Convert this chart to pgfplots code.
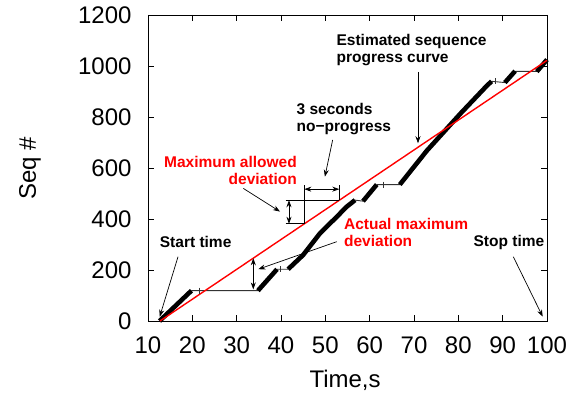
\documentclass[border=0pt]{standalone}
\usepackage{fontspec}
\setmainfont{Liberation Sans}
\usepackage{pgfplots}
\pgfplotsset{compat=1.18}
\usepackage{pgfplotstable}
\usetikzlibrary{arrows.meta}

% thick progress segments, nan rows break the line
\pgfplotstableread{
x y
12.6 0
19.8 119
nan nan
34.8 119
39.1 203
nan nan
41.6 203
45.0 259
48.8 344
52.6 409
54.8 448
56.7 474
nan nan
58.5 470
61.6 535
nan nan
66.8 535
72.9 668
80.4 812
86.4 922
87.5 940
nan nan
90.5 935
92.8 980
nan nan
97.7 978
100.0 1025
}\progress

% thin no-progress stretches
\pgfplotstableread{
x y
19.8 119
34.8 119
nan nan
39.1 203
41.6 203
nan nan
56.7 474
58.5 470
nan nan
61.6 535
66.8 535
nan nan
87.5 940
90.5 935
nan nan
92.8 979
97.7 979
}\stall

\newcommand{\annfont}{\bfseries\fontsize{15.5}{17}\selectfont}
\tikzset{ann/.style={-{Stealth[length=7pt,width=5pt]}, line width=0.7pt},
         dbl/.style={{Stealth[length=7pt,width=5pt]}-{Stealth[length=7pt,width=5pt]}, line width=0.7pt}}

\begin{document}
\begin{tikzpicture}
\useasboundingbox (0,0) rectangle (572pt,402pt);
\begin{axis}[
  at={(148pt,81pt)}, anchor=south west,
  scale only axis, width=399pt, height=306pt,
  xmin=10, xmax=100, ymin=0, ymax=1200,
  xtick={10,20,...,100}, ytick={0,200,...,1200},
  tick align=inside, tick pos=both,
  major tick length=6pt,
  axis line style={line width=0.9pt},
  tick style={black, line width=0.8pt},
  ticklabel style={font=\fontsize{24}{28}\selectfont},
  /pgf/number format/assume math mode=true,
  /pgf/number format/1000 sep={},
  xticklabel style={yshift=-12pt},
  yticklabel style={xshift=-13pt},
  xlabel={Time,s}, ylabel={Seq \#},
  label style={font=\fontsize{24}{28}\selectfont},
  xlabel style={at={(axis description cs:0.494,-0.193)}, anchor=center},
  ylabel style={at={(axis description cs:-0.296,0.5)}, anchor=center},
  unbounded coords=jump,
  clip=false,
]
  \addplot[black!80, line width=0.9pt] table {\stall};
  \addplot[only marks, mark=|, mark size=3pt, black!80, mark options={line width=0.9pt}]
    coordinates {(21.7,119) (39.8,203) (63.1,535) (88.3,940)};
  \addplot[black, line width=4.6pt] table {\progress};
  \addplot[red, line width=1.4pt] coordinates {(12.7,0) (100,1022)};

  % maximum allowed deviation staircase
  \draw[line width=0.7pt] (axis cs:41.06,473.5) -- (axis cs:53.15,473.5);
  \draw[line width=0.7pt] (axis cs:41.06,381.2) -- (axis cs:45.26,381.2);
  \draw[line width=0.7pt] (axis cs:45.26,381.2) -- (axis cs:45.26,533);
  \draw[line width=0.7pt] (axis cs:53.15,473.5) -- (axis cs:53.15,533);
  \draw[dbl] (axis cs:41.8,381.2) -- (axis cs:41.8,473.5);
  \draw[dbl] (axis cs:45.26,517) -- (axis cs:53.15,517);

  % actual maximum deviation
  \draw[dbl] (axis cs:33.75,246) -- (axis cs:33.75,124);

  \node[anchor=west, align=left, inner sep=0pt, font=\annfont]
    at (axis cs:52.5,1063) {Estimated sequence\\progress curve};
  \draw[ann] (axis cs:70.9,977) -- (axis cs:70.9,697);

  \node[anchor=west, align=left, inner sep=0pt, font=\annfont]
    at (axis cs:43.5,792) {3 seconds\\no−progress};
  \draw[ann] (axis cs:51.65,710) -- (axis cs:49.9,566);

  \node[anchor=east, align=right, inner sep=0pt, font=\annfont, text=red]
    at (axis cs:43.6,592) {Maximum allowed\\deviation};
  \draw[ann] (axis cs:31.5,520) -- (axis cs:39.78,429);

  \node[anchor=west, align=left, inner sep=0pt, font=\annfont, text=red]
    at (axis cs:54.2,347) {Actual maximum\\deviation};
  \draw[ann] (axis cs:52.57,311) -- (axis cs:34.88,203);

  \node[anchor=west, inner sep=0pt, font=\annfont]
    at (axis cs:12.64,311) {Start time};
  \draw[ann] (axis cs:16.77,252) -- (axis cs:12.64,17);

  \node[anchor=west, inner sep=0pt, font=\annfont]
    at (axis cs:83.4,307) {Stop time};
  \draw[ann] (axis cs:92.4,252) -- (axis cs:99.03,17);
\end{axis}
\end{tikzpicture}
\end{document}
